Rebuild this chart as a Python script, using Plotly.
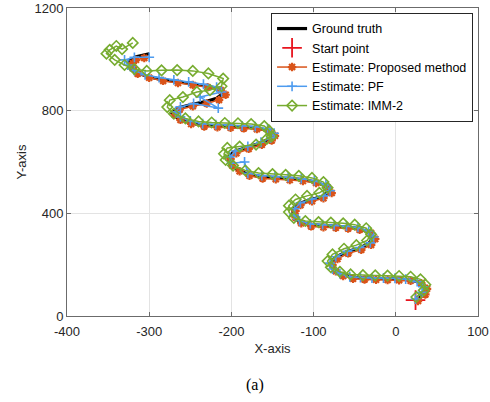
import plotly.graph_objects as go

# Ground truth trajectory
gt_x = [25, 33, 35, 28, 15, 2, -12, -26, -40, -53, -66, -76, -80, -74, -60, -45, -33, -28, -34, -47,
        -61, -75, -90, -105, -118, -125, -125, -118, -104, -90, -81, -86, -100, -116, -132, -148, -164,
        -180, -193, -202, -204, -197, -182, -166, -154, -150, -157, -172, -188, -204, -220, -236, -252,
        -265, -272, -266, -250, -233, -218, -210, -216, -232, -250, -268, -286, -303, -317, -325, -324,
        -316, -300]
gt_y = [62, 88, 110, 132, 142, 145, 146, 147, 148, 151, 162, 180, 203, 228, 250, 264, 282, 305, 328, 342,
        347, 350, 352, 356, 368, 390, 415, 438, 453, 465, 485, 508, 524, 532, 536, 539, 543,
        552, 570, 592, 617, 640, 657, 673, 690, 708, 725, 734, 737, 739, 741, 744, 754,
        770, 790, 810, 823, 834, 848, 868, 886, 897, 906, 914, 922, 934, 950, 972, 995,
        1010, 1022]

# Start point
start_x = [24]
start_y = [62]

# Estimate: Proposed method
pm_x = [27, 36, 38, 31, 18, 4, -10, -24, -38, -52, -64, -73, -77, -71, -58, -42, -30, -25, -30, -44,
        -58, -73, -88, -103, -115, -122, -122, -116, -102, -88, -78, -83, -97, -113, -129, -146, -162,
        -178, -190, -199, -201, -194, -179, -163, -151, -147, -154, -169, -185, -201, -217, -233, -249,
        -262, -269, -263, -247, -230, -215, -207, -213, -229, -247, -265, -283, -300, -314, -320, -320,
        -316, -306]
pm_y = [58, 84, 106, 128, 137, 139, 140, 141, 142, 145, 156, 174, 198, 222, 244, 258, 277, 300, 323, 336,
        341, 344, 346, 349, 361, 384, 409, 432, 447, 459, 479, 502, 518, 526, 530, 533, 536,
        546, 564, 586, 611, 634, 651, 667, 684, 702, 719, 728, 731, 733, 735, 738, 748,
        764, 784, 804, 817, 828, 842, 862, 880, 891, 900, 908, 916, 928, 944, 966, 985,
        998, 1005]

# Estimate: PF
pf_x = [24, 32, 33, 26, 12, -1, -15, -29, -43, -56, -68, -77, -80, -73, -59, -44, -31, -27, -33, -46,
        -60, -75, -89, -104, -117, -124, -123, -116, -102, -88, -80, -85, -99, -115, -131, -147, -163,
        -180, -184, -200, -202, -195, -180, -164, -152, -148, -156, -171, -187, -203, -219, -235, -250,
        -262, -268, -262, -246, -216, -238, -212, -218, -234, -252, -270, -288, -305, -318, -326, -330,
        -318, -300]
pf_y = [66, 92, 114, 134, 144, 147, 148, 148, 150, 153, 165, 183, 206, 231, 252, 267, 285, 308, 331, 345,
        350, 353, 356, 359, 371, 393, 418, 441, 456, 468, 488, 511, 527, 535, 540, 543, 547,
        556, 600, 595, 620, 643, 661, 677, 694, 712, 729, 738, 741, 743, 746, 749, 760,
        776, 796, 815, 828, 810, 853, 873, 892, 903, 912, 920, 929, 940, 956, 978, 998,
        1008, 1008]

# Estimate: IMM-2
imm_x = [25, 34, 36, 30, 18, 4, -10, -25, -40, -55, -68, -79, -83, -77, -63, -48, -35, -30, -36, -50,
         -64, -79, -94, -110, -124, -130, -130, -122, -108, -93, -83, -88, -102, -118, -134, -150, -167,
         -183, -198, -207, -209, -205, -190, -170, -157, -151, -154, -160, -176, -192, -208, -224, -240,
         -256, -270, -278, -275, -259, -242, -226, -212, -210, -228, -247, -266, -285, -303, -318, -330,
         -342, -352, -348, -340, -333, -320]
imm_y = [74, 100, 122, 143, 153, 156, 157, 158, 159, 162, 172, 190, 214, 240, 262, 276, 294, 318, 342, 356,
         361, 364, 366, 370, 382, 405, 430, 454, 468, 480, 500, 522, 538, 546, 550, 553, 557,
         567, 586, 608, 632, 655, 660, 668, 690, 700, 722, 740, 748, 751, 752, 754, 758,
         770, 788, 814, 841, 853, 873, 880, 895, 925, 945, 955, 958, 957, 955, 962, 978,
         998, 1022, 1037, 1052, 1040, 1064]

x_ticks = [-400, -300, -200, -100, 0, 100]
y_ticks = [0, 400, 800, 1200]

fig = go.Figure()
fig.add_trace(go.Scatter(x=gt_x, y=gt_y, mode="lines", name="Ground truth",
                         line=dict(color="black", width=3.2)))
fig.add_trace(go.Scatter(x=start_x, y=start_y, mode="markers", name="Start point",
                         marker=dict(symbol="cross-thin-open", size=14, color="#E8141E",
                                     line=dict(color="#E8141E", width=1.8))))
fig.add_trace(go.Scatter(x=pm_x, y=pm_y, mode="lines+markers", name="Estimate: Proposed method",
                         line=dict(color="#D95319", width=1.5),
                         marker=dict(symbol="asterisk-open", size=7, color="#D95319",
                                     line=dict(color="#D95319", width=2.2))))
fig.add_trace(go.Scatter(x=pf_x, y=pf_y, mode="lines+markers", name="Estimate: PF",
                         line=dict(color="#4D9BEF", width=1.5),
                         marker=dict(symbol="cross-thin-open", size=7, color="#4D9BEF",
                                     line=dict(color="#4D9BEF", width=1.6))))
fig.add_trace(go.Scatter(x=imm_x, y=imm_y, mode="lines+markers", name="Estimate: IMM-2",
                         line=dict(color="#77AC30", width=1.5),
                         marker=dict(symbol="diamond-open", size=8, color="#77AC30",
                                     line=dict(color="#77AC30", width=1.6))))

axis_common = dict(showline=True, mirror="ticks", linecolor="#6b6b6b", linewidth=1,
                   ticks="inside", ticklen=4, tickcolor="#6b6b6b", automargin=False,
                   showgrid=True, gridcolor="#e3e3e3", gridwidth=1, zeroline=False,
                   tickfont=dict(family="Liberation Sans, Arial", size=13, color="#262626"))

fig.update_layout(
    width=490, height=402,
    margin=dict(l=67, r=12, t=8, b=86),
    paper_bgcolor="white", plot_bgcolor="white",
    font=dict(family="Liberation Sans, Arial", size=13, color="#262626"),
    xaxis=dict(range=[-400, 100], tickvals=x_ticks, ticktext=[str(v) for v in x_ticks],
               ticklabelstandoff=3,
               title=dict(text="X-axis", standoff=6, font=dict(size=13)), **axis_common),
    yaxis=dict(range=[0, 1200], tickvals=y_ticks, ticktext=[str(v) for v in y_ticks],
               title=dict(text="Y-axis", standoff=4, font=dict(size=13)), **axis_common),
    legend=dict(x=0.988, y=0.984, xanchor="right", yanchor="top",
                bgcolor="white", bordercolor="#262626", borderwidth=1,
                font=dict(family="Liberation Sans, Arial", size=12.5, color="black"),
                tracegroupgap=0, itemwidth=30),
    showlegend=True,
)

fig.add_annotation(text="(a)", xref="paper", yref="paper", x=0.457, y=-0.224,
                   xanchor="center", yanchor="middle", showarrow=False,
                   font=dict(family="Liberation Serif, Times New Roman", size=16, color="black"))

fig.write_html("out.html", config={"displayModeBar": False},
               post_script="document.body.style.margin='0';")
